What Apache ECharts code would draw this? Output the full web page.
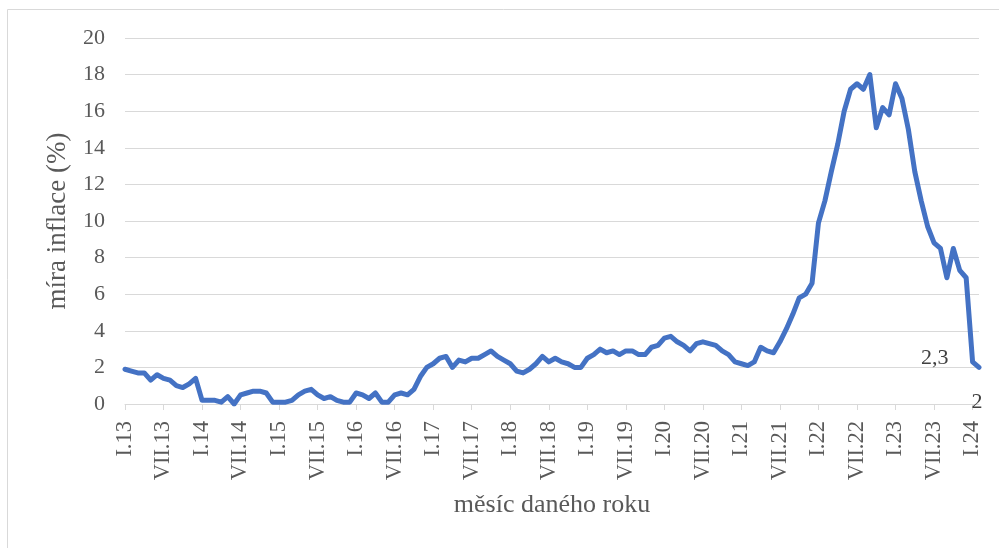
<!DOCTYPE html>
<html><head><meta charset="utf-8">
<script src="https://cdn.jsdelivr.net/npm/echarts@6/dist/echarts.min.js"></script>
<style>html,body{margin:0;padding:0;background:#fff}#c{width:999px;height:548px}</style>
</head><body><div id="c"></div>
<script>
const roman = ['I','II','III','IV','V','VI','VII','VIII','IX','X','XI','XII'];
const years = ['13','14','15','16','17','18','19','20','21','22','23','24'];
const v2013 = [1.9,1.8,1.7,1.7,1.3,1.6,1.4,1.3,1.0,0.9,1.1,1.4];
const v2014 = [0.2,0.2,0.2,0.1,0.4,0.0,0.5,0.6,0.7,0.7,0.6,0.1];
const v2015 = [0.1,0.1,0.2,0.5,0.7,0.8,0.5,0.3,0.4,0.2,0.1,0.1];
const v2016 = [0.6,0.5,0.3,0.6,0.1,0.1,0.5,0.6,0.5,0.8,1.5,2.0];
const v2017 = [2.2,2.5,2.6,2.0,2.4,2.3,2.5,2.5,2.7,2.9,2.6,2.4];
const v2018 = [2.2,1.8,1.7,1.9,2.2,2.6,2.3,2.5,2.3,2.2,2.0,2.0];
const v2019 = [2.5,2.7,3.0,2.8,2.9,2.7,2.9,2.9,2.7,2.7,3.1,3.2];
const v2020 = [3.6,3.7,3.4,3.2,2.9,3.3,3.4,3.3,3.2,2.9,2.7,2.3];
const v2021 = [2.2,2.1,2.3,3.1,2.9,2.8,3.4,4.1,4.9,5.8,6.0,6.6];
const v2022 = [9.9,11.1,12.7,14.2,16.0,17.2,17.5,17.2,18.0,15.1,16.2,15.8];
const v2023 = [17.5,16.7,15.0,12.7,11.1,9.7,8.8,8.5,6.9,8.5,7.3,6.9];
const v2024 = [2.3,2.0];
const yearValues = [v2013,v2014,v2015,v2016,v2017,v2018,v2019,v2020,v2021,v2022,v2023,v2024];
const categories = [];
const values = [];
yearValues.forEach((arr, yi) => arr.forEach((v, mi) => { categories.push(roman[mi] + '.' + years[yi]); values.push(v); }));
const n = values.length;
const seriesData = values.map((v, i) => {
  if (i === n - 2) return {value: v, label: {show: true, position: 'left', distance: 24, offset: [0, -4]}};
  if (i === n - 1) return {value: v, label: {show: true, position: 'bottom', distance: 24, offset: [-2, 0]}};
  return v;
});
const font = '"Liberation Serif","Times New Roman",serif';
const chart = echarts.init(document.getElementById('c'));
chart.setOption({
  animation: false,
  textStyle: {fontFamily: font},
  graphic: [{type: 'rect', shape: {x: 7.5, y: 9.5, width: 1100, height: 700}, style: {fill: 'none', stroke: '#d9d9d9', lineWidth: 1}, silent: true}],
  grid: {left: 125, right: 20, top: 38, bottom: 144},
  xAxis: {
    type: 'category', data: categories, boundaryGap: false,
    name: 'měsíc daného roku', nameLocation: 'middle', nameGap: 88,
    nameTextStyle: {fontFamily: font, fontSize: 26, color: '#595959'},
    axisLine: {lineStyle: {color: '#d9d9d9', width: 1}},
    axisTick: {show: true, interval: 5, length: 6, lineStyle: {color: '#d9d9d9'}},
    axisLabel: {interval: 5, rotate: 90, fontFamily: font, fontSize: 22.5, color: '#595959', margin: 17},
    splitLine: {show: false}
  },
  yAxis: {
    type: 'value', min: 0, max: 20, interval: 2,
    name: 'míra inflace (%)', nameLocation: 'middle', nameGap: 54,
    nameTextStyle: {fontFamily: font, fontSize: 27, color: '#595959'},
    axisLine: {show: false}, axisTick: {show: false},
    axisLabel: {fontFamily: font, fontSize: 22, color: '#595959', margin: 20},
    splitLine: {lineStyle: {color: '#d9d9d9', width: 1}}
  },
  series: [{
    type: 'line', data: seriesData, showSymbol: true, symbol: 'circle', symbolSize: 0,
    lineStyle: {color: '#4472c4', width: 5, join: 'round', cap: 'round'},
    itemStyle: {color: '#4472c4'},
    label: {show: false, fontFamily: font, fontSize: 22, color: '#404040', formatter: p => String(p.value).replace('.', ',')}
  }]
});
</script></body></html>
